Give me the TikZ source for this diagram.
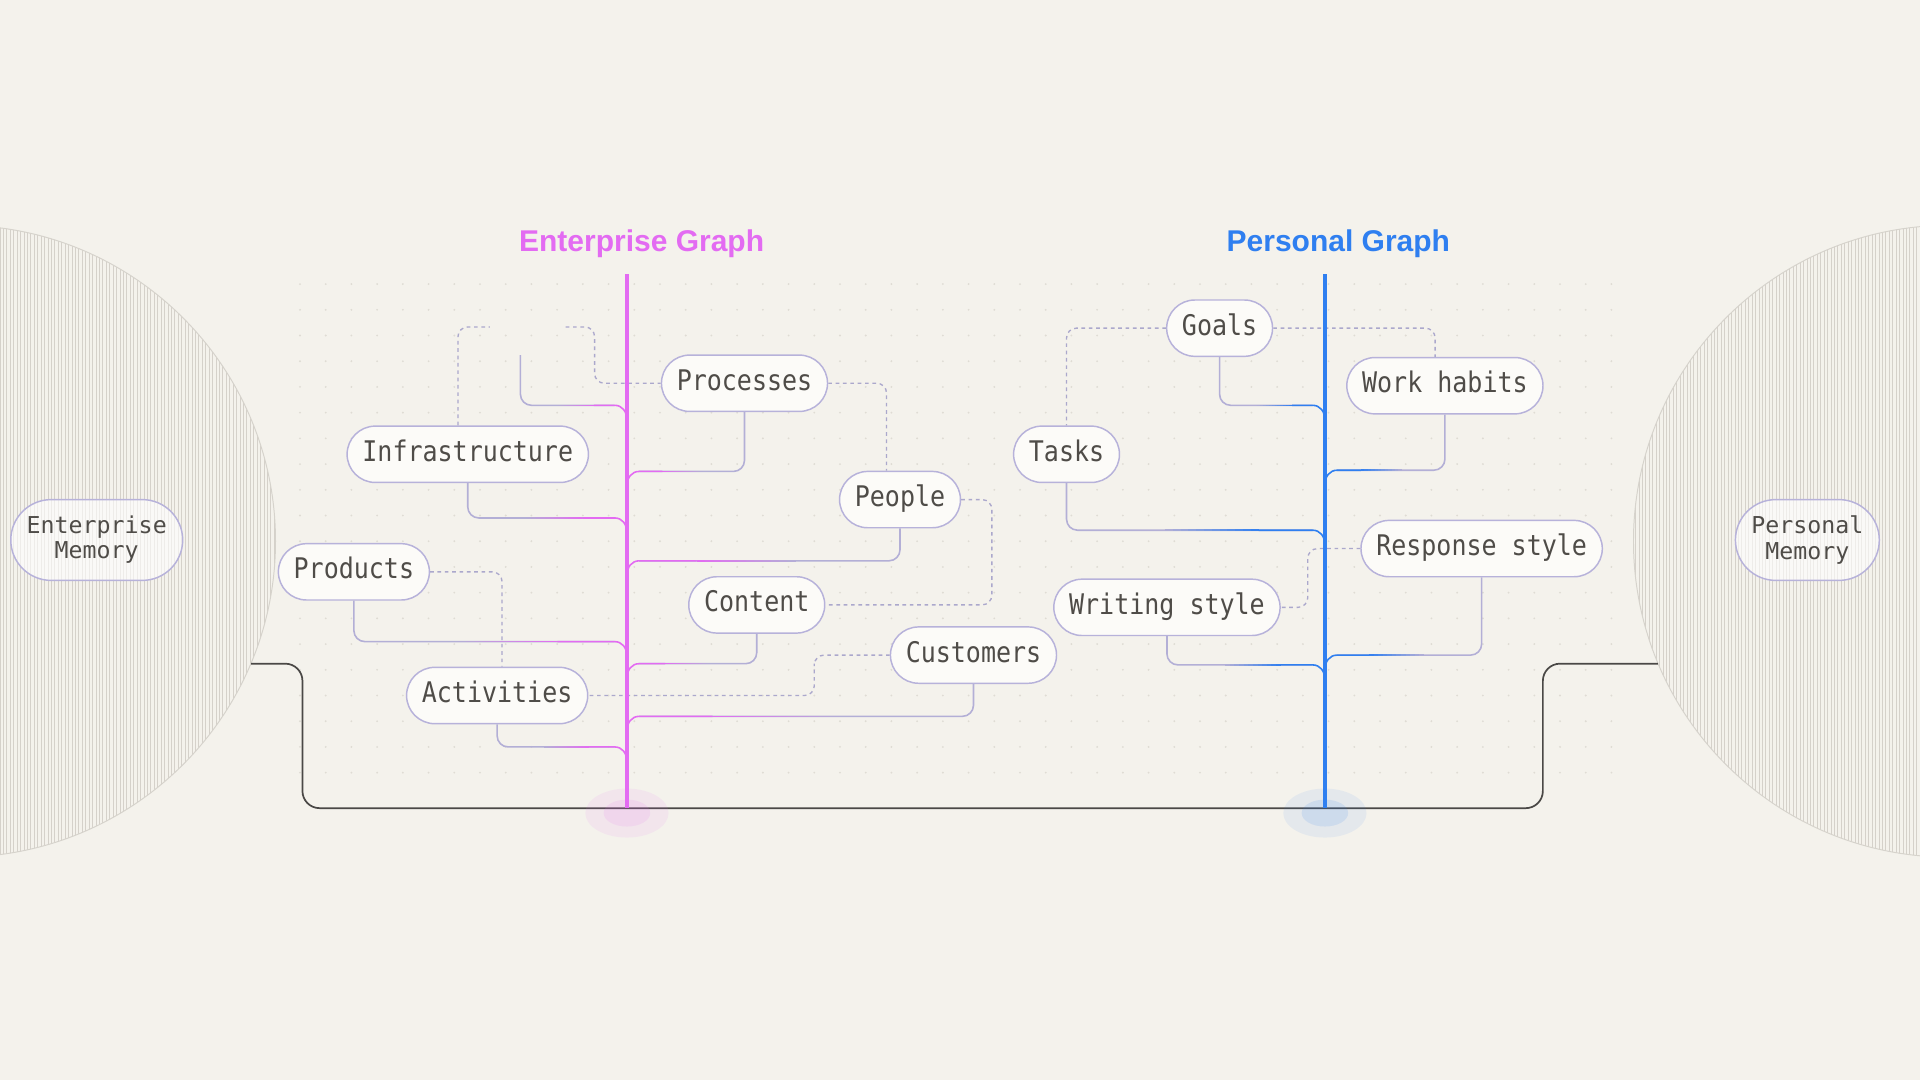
\documentclass[tikz,border=0pt]{standalone}
\usepackage{fontspec}
\newfontfamily\titlefont{Liberation Sans}
\newfontfamily\nodefont{DejaVu Sans Mono}[FakeStretch=0.88]
\newfontfamily\memfont{DejaVu Sans Mono}
\usetikzlibrary{calc}
\definecolor{bg}{HTML}{F4F2EC}
\definecolor{nodefill}{HTML}{FCFBF8}
\definecolor{lavb}{HTML}{B7B2DA}
\definecolor{lav}{HTML}{B3AFD6}
\definecolor{dashc}{HTML}{ABA8CC}
\definecolor{txt}{HTML}{4F4C48}
\definecolor{pinkc}{HTML}{E36BF2}
\definecolor{bluec}{HTML}{2F7FF0}
\definecolor{dotc}{HTML}{DFDCD4}
\definecolor{stripec}{HTML}{D5D1CA}
\definecolor{circc}{HTML}{D6D3CC}
\definecolor{wire}{HTML}{4A4846}
\tikzset{
  pill/.style={draw=lavb, line width=1.2pt, fill=nodefill, rounded corners=23,
    minimum height=46, inner xsep=12.5, inner ysep=0, text height=16, text depth=4.5,
    text=txt, font=\nodefont\fontsize{23.2}{26}\selectfont},
  mempill/.style={draw=lavb, line width=1.2pt, fill=white, fill opacity=0.6, text opacity=1,
    rounded corners=33, minimum height=66, inner xsep=13, inner ysep=0, align=center,
    text=txt, font=\memfont\fontsize{19}{20.5}\selectfont},
  branchline/.style={draw=lav, line width=1.3pt},
  dashline/.style={draw=dashc, line width=1.1pt, dash pattern=on 3pt off 3pt, rounded corners=8},
  titlestyle/.style={font=\titlefont\bfseries\fontsize{24.5}{28}\selectfont},
  stripe/.style={draw=stripec, line width=0.6pt},
}
\newcommand\branch[5]{%
  \coordinate (j) at ({#3+10*(#4)},#2);
  \coordinate (t) at (#3,{#2+12});
  \coordinate (h1) at ($(#1 |- j)!0.4!(j)$);
  \coordinate (h2) at ($(#1 |- j)!0.78!(j)$);
  \draw[branchline,rounded corners=9] (#1) |- (j);
  \foreach \k in {0,...,11}{%
    \pgfmathsetmacro\pa{\k/12}%
    \pgfmathsetmacro\pb{(\k+1)/12}%
    \pgfmathtruncatemacro\pc{(\k+0.5)/12*100}%
    \draw[line width=1.3pt, color=#5!\pc!lav] ($(h1)!\pa!(h2)$) -- ($(h1)!\pb!(h2)$);
  }
  \draw[line width=1.3pt,#5] (h2) -- (j) .. controls ($(j)+({-6*(#4)},0)$) and ($(t)+(0,-7)$) .. (t);
}
\begin{document}
\begin{tikzpicture}[x=1pt,y=-1pt]
\useasboundingbox (0,0) rectangle (1568,882);
\clip (0,0) rectangle (1568,882);
\fill[bg] (0,0) rectangle (1568,882);

% dot grid
\foreach \x in {245,266,...,1320} \foreach \y in {232,253,...,645} \fill[dotc] (\x,\y) circle [radius=0.85];

% memory circles
\begin{scope}
  \clip (-33,442) circle [radius=258];
  \foreach \x in {0,2.8,...,228} \draw[stripe] (\x,180) -- (\x,705);
\end{scope}
\draw[circc, line width=0.8pt] (-33,442) circle [radius=258];
\begin{scope}
  \clip (1592,442) circle [radius=258];
  \foreach \x in {1568,1565.2,...,1330} \draw[stripe] (\x,180) -- (\x,705);
\end{scope}
\draw[circc, line width=0.8pt] (1592,442) circle [radius=258];

% bottom wire
\coordinate (L0) at (205,542);
\coordinate (R0) at (1354,542);
\coordinate (bl) at (247,660);
\coordinate (br) at (1260,660);
\draw[wire, line width=1.4pt, rounded corners=14] (L0) -| (bl) -- (br) |- (R0);

% glows
\fill[pinkc, opacity=0.09] (512,664) ellipse [x radius=34, y radius=20];
\fill[pinkc, opacity=0.12] (512,664) ellipse [x radius=19, y radius=11];
\fill[bluec, opacity=0.08] (1082,664) ellipse [x radius=34, y radius=20];
\fill[bluec, opacity=0.12] (1082,664) ellipse [x radius=19, y radius=11];

% titles
\node[titlestyle, text=pinkc] (etitle) at (524,199) {Enterprise Graph};
\node[titlestyle, text=bluec] (ptitle) at (1093,199) {Personal Graph};

% memory nodes
\node[mempill] (emem) at (79,441) {Enterprise\\Memory};
\node[mempill] (pmem) at (1476,441) {Personal\\Memory};

% enterprise nodes
\node[pill] (processes) at (608,313) {Processes};
\node[pill] (infra) at (382,371) {Infrastructure};
\node[pill] (people) at (735,408) {People};
\node[pill] (products) at (289,467) {Products};
\node[pill] (content) at (618,494) {Content};
\node[pill] (customers) at (795,535) {Customers};
\node[pill] (activities) at (406,568) {Activities};

% personal nodes
\node[pill] (goals) at (996,268) {Goals};
\node[pill] (workhabits) at (1180,315) {Work habits};
\node[pill] (tasks) at (871,371) {Tasks};
\node[pill] (response) at (1210,448) {Response style};
\node[pill] (writing) at (953,496) {Writing style};

% dashed links (enterprise)
\coordinate (d1) at (400,267);
\coordinate (d2) at (462,267);
\draw[dashline] ([xshift=-8pt]infra.north) |- (d1);
\draw[dashline] (d2) -| ($(processes.west)+(-54,0)$) -- (processes.west);
\draw[dashline] (processes.east) -| ([xshift=-11pt]people.north);
\coordinate (c810) at (810,450);
\draw[dashline] (people.east) -| (c810) |- (content.east);
\draw[dashline] (products.east) -| ([xshift=4pt]activities.north);
\coordinate (c665) at (665,550);
\draw[dashline] (customers.west) -| (c665) |- (activities.east);

% dashed links (personal)
\draw[dashline] (goals.west) -| (tasks.north);
\draw[dashline] (goals.east) -| ([xshift=-8pt]workhabits.north);
\coordinate (c1068) at (1068,470);
\draw[dashline] (response.west) -| (c1068) |- (writing.east);

% enterprise branches
\coordinate (m0) at (425,290);
\branch{m0}{331}{512}{-1}{pinkc}
\branch{processes.south}{385}{512}{1}{pinkc}
\branch{infra.south}{423}{512}{-1}{pinkc}
\branch{people.south}{458}{512}{1}{pinkc}
\branch{products.south}{524}{512}{-1}{pinkc}
\branch{content.south}{542}{512}{1}{pinkc}
\branch{customers.south}{585}{512}{1}{pinkc}
\branch{activities.south}{610}{512}{-1}{pinkc}

% personal branches
\branch{goals.south}{331}{1082}{-1}{bluec}
\branch{workhabits.south}{384}{1082}{1}{bluec}
\branch{tasks.south}{433}{1082}{-1}{bluec}
\branch{response.south}{535}{1082}{1}{bluec}
\branch{writing.south}{543}{1082}{-1}{bluec}

% trunks
\coordinate (et) at (512,224);
\coordinate (eb) at (512,660);
\coordinate (pt) at (1082,224);
\coordinate (pb) at (1082,660);
\draw[pinkc, line width=3pt] (et) -- (eb);
\draw[bluec, line width=3.4pt] (pt) -- (pb);
\end{tikzpicture}
\end{document}
